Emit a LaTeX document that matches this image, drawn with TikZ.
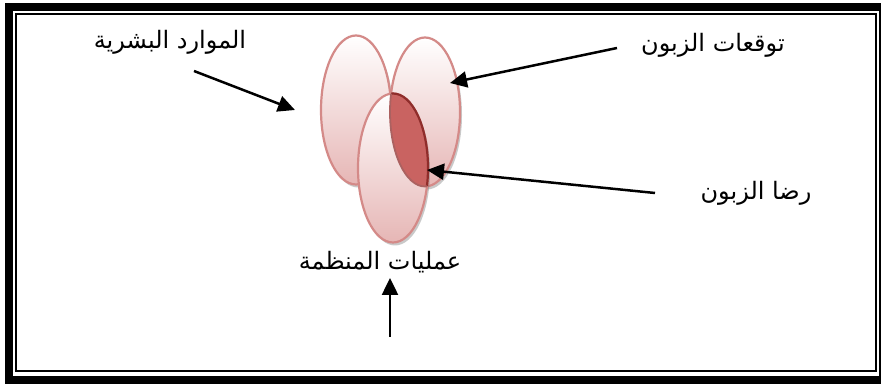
\documentclass[tikz,border=0pt]{standalone}
\usepackage{fontspec}
\newfontfamily\arabicfont[Script=Arabic]{DejaVu Sans}
\TeXXeTstate=1
\definecolor{petaledge}{HTML}{D48A88}
\definecolor{petalfill}{HTML}{E6B6B5}
\definecolor{lensmid}{HTML}{B23C39}
\definecolor{lenslight}{HTML}{C96361}
\definecolor{lensedge}{HTML}{8F2D2B}
\usepackage{tikz}
\usetikzlibrary{shapes.geometric, arrows.meta, shadows}
\tikzset{
  petal/.style={
    ellipse, draw=petaledge, line width=2.2pt, inner sep=0pt,
    minimum width=70pt, minimum height=149pt,
    top color=white, bottom color=petalfill,
    drop shadow={shadow xshift=2pt, shadow yshift=-3pt, opacity=0.35, fill=black!60}
  },
  lbl/.style={font=\arabicfont\fontsize{24}{28}\selectfont, text=black, inner sep=0pt},
  arr/.style={-{Triangle[length=17pt,width=16pt]}, line width=2.5pt, color=black},
}

\begin{document}
\begin{tikzpicture}[x=1pt, y=1pt]
    \useasboundingbox (0,0) rectangle (881,385);
    \fill[white] (0,0) rectangle (881,385);
    \draw[line width=8pt] (9,5) rectangle (883,378);
    \draw[line width=2pt] (16,14) rectangle (876,371);

    \node[petal] (hr) at (356,275) {};
    \node[petal] (expect) at (425,273) {};
    \node[petal] (ops) at (393,217) {};

    \begin{scope}
      \clip (425,273) ellipse [x radius=35, y radius=74.5];
      \clip (393,217) ellipse [x radius=35, y radius=74.5];
      \shade[top color=lenslight, middle color=lensmid, bottom color=lenslight]
        (386,197) rectangle (432,300);
    \end{scope}
    \begin{scope}
      \clip (425,273) ellipse [x radius=35, y radius=74.5];
      \draw[lensedge, line width=2.2pt] (393,217) ellipse [x radius=35, y radius=74.5];
    \end{scope}
    \begin{scope}
      \clip (393,217) ellipse [x radius=35, y radius=74.5];
      \draw[lensedge!75, line width=1.8pt] (425,273) ellipse [x radius=35, y radius=74.5];
    \end{scope}

    \node[lbl] (hrlbl) at (170,343) {\beginR الموارد البشرية\endR};
    \node[lbl] (expectlbl) at (713,340) {\beginR توقعات الزبون\endR};
    \node[lbl] (satlbl) at (756,192) {\beginR رضا الزبون\endR};
    \node[lbl] (opslbl) at (380,123) {\beginR عمليات المنظمة\endR};

    \coordinate (hrfrom) at (194,314);
    \coordinate (hrtip) at (295,275);
    \coordinate (expectfrom) at (617,337);
    \coordinate (expecttip) at (450,302);
    \coordinate (satfrom) at (655,192);
    \coordinate (sattip) at (427,215);
    \coordinate (opsfrom) at (390,48);
    \coordinate (opstip) at (390,107);

    \draw[arr] (hrfrom) -- (hrtip);
    \draw[arr] (expectfrom) -- (expecttip);
    \draw[arr] (satfrom) -- (sattip);
    \draw[arr] (opsfrom) -- (opstip);
  \end{tikzpicture}
\end{document}
